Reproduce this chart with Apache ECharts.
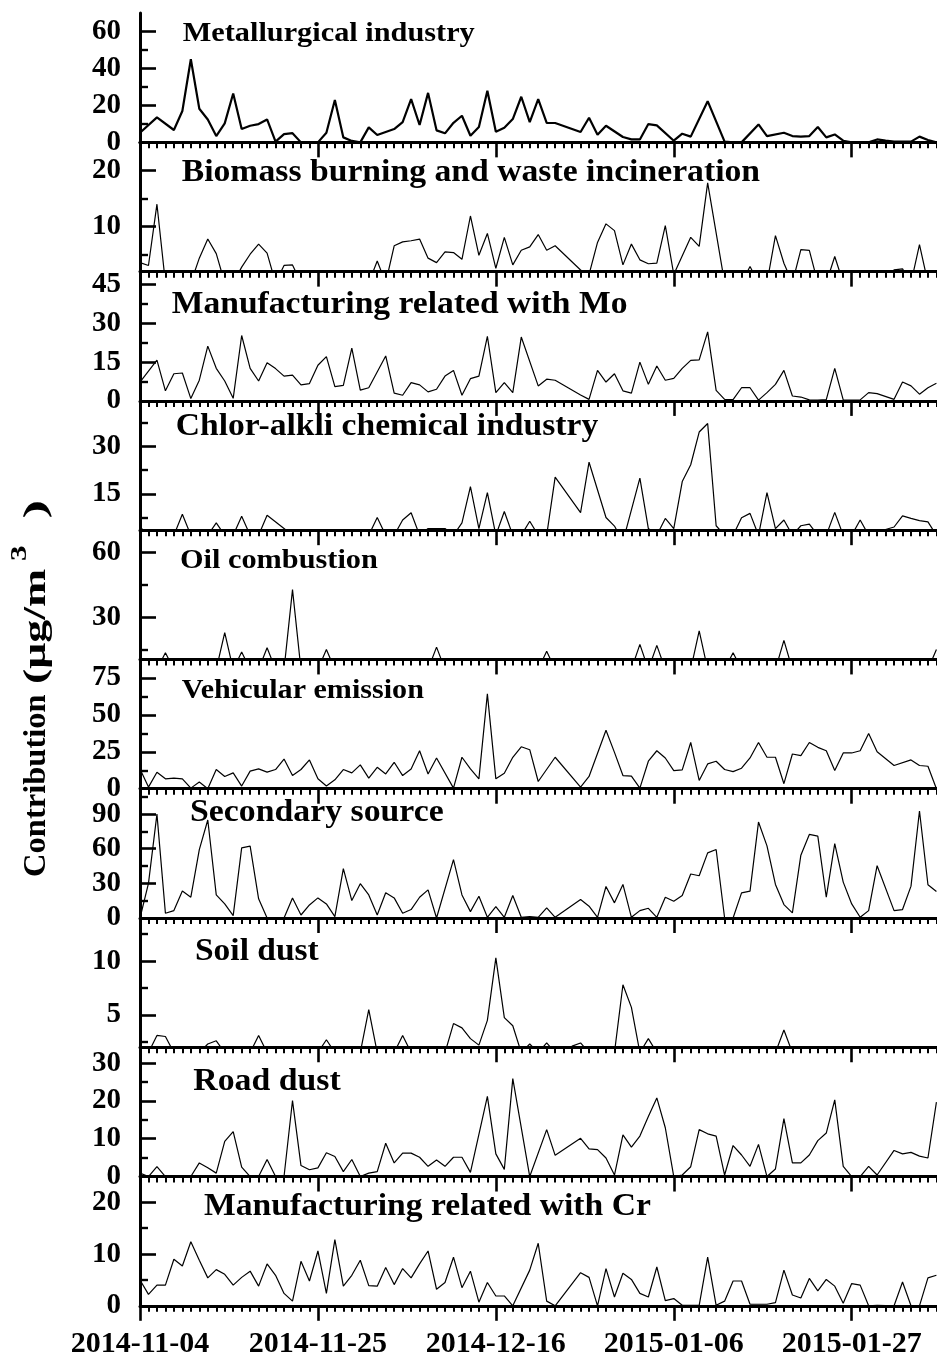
<!DOCTYPE html>
<html><head><meta charset="utf-8">
<script src="https://cdn.jsdelivr.net/npm/echarts@6/dist/echarts.min.js"></script>
<style>html,body{margin:0;padding:0;background:#fff}#c{width:937px;height:1358px}</style>
</head><body><div id="c"></div><script>
// ---- data (one value per day starting 2014-11-04; null = no vertex that day) ----
const START_DATE = '2014-11-04';
const xTickLabels = ['2014-11-04','2014-11-25','2014-12-16','2015-01-06','2015-01-27'];
const sourceNames = ['Metallurgical industry','Biomass burning and waste incineration','Manufacturing related with Mo','Chlor-alkli chemical industry','Oil combustion','Vehicular emission','Secondary source','Soil dust','Road dust','Manufacturing related with Cr'];

const metallurgical = [5.2,null,13.5,null,6.7,17,45,18.2,12.4,3.4, 10.3,26.5,7.2,9,9.9,12.4,0.4,4.5,5,0, 0,0,5.2,22.9,2.7,0.8,0,8.1,4,5.6, 7.2,11,23.4,9.4,26.8,6.5,4.9,10.6,14.4,3.6, 8.3,27.9,5.8,7.9,12.6,24.7,11,23.4,10.6,10.5, null,null,5.6,13.3,4.1,9,null,2.9,1.6,1.6, 9.9,9.2,null,0.9,4.7,3.1,null,22.3,null,0.4, 0,0,null,9.7,3.4,null,5.2,3.4,3.1,3.4, 8.3,2.7,4.3,0.9,0,0,0,1.6,0.9,0.4, 0.4,0.4,3.1,1.3,0];
const biomass = [3.6,3.1,14,0,0,0,0,4.4,7.8,5.2, 0,0,2.8,5.1,6.9,5.3,0,3.1,3.2,0, 0,0,0,0,0,0,0,0,3.9,0, 6.6,7.3,7.5,7.8,4.4,3.6,5.5,5.4,4.2,11.9, 4.9,8.8,2.6,8.1,3.2,5.8,6.4,8.6,5.8,6.6, null,null,2.3,1.5,7.2,10.5,9.3,3.2,6.9,4.1, 3.4,3.5,10.2,1.5,null,8.1,6.5,17.8,null,0, 0,0,2.9,0,0,8.4,3.5,0,5.9,5.8, 0,0,4.7,0,0,0,0,0,0,2.3, 2.5,0,6.8,0,0];
const moManufacturing = [7.3,null,15.8,3.9,10.5,10.8,0.9,8,21.2,12.6, 7.7,1,25.3,12.6,7.7,14.8,12.5,9.6,10,6.2, 6.7,13.8,17.1,5.5,6,20.4,4.2,5.1,null,17.4, 3,2.2,7.1,6.2,3.5,4.5,9.6,11.8,2.2,8.6, 9.6,25,3.2,7.1,3.2,24.7,null,5.8,8.4,8, null,null,2.3,0.6,11.8,7.3,10.5,3.9,3,15, 6.4,13.5,8,8.7,12.6,15.7,15.9,26.7,4.1,0.6, 0.5,5.1,5.1,0.3,3.2,6.4,11.8,1.9,1.5,0.4, 0.3,0.5,12.6,0.4,0.3,0.4,3.2,2.8,null,0.6, 7.3,5.8,2.6,5.1,6.8];
const chlorAlkali = [4.6,2,2,2,2,8.6,2,2,2,5.9, 2,2,8,2,2,8.3,null,4.1,2,2, 2,2,2,2,2,2,2,2,7.6,2, 2,6.8,9.1,2,4.1,null,4.1,2,5.9,17.3, 4.1,15.4,2,9.5,2,2,6.4,2,2,20.3, null,null,9.1,25,null,7.6,4.9,0,null,20, 4.1,2,7.3,4.1,18.9,24.2,34.5,37.2,5,2, 2,7.5,8.9,2,15.4,4.1,6.8,2,5,5.5, 2,2,9.2,2,2,6.8,2,2,3.8,4.6, 8.1,7.3,6.6,6.2,2];
const oilCombustion = [6,6,6,13.7,6,6,6,6,6,6, 23,6,14,6,6,16,6,6,42.9,6, 6,6,15.2,6,6,6,6,6,6,6, 6,6,6,6,6,16.3,6,6,6,6, 6,6,6,6,6,6,6,6,14.4,6, 6,6,6,6,6,6,6,6,6,17.6, 6,17.1,6,6,6,6,23.8,6,6,6, 13.7,6,6,6,6,6,19.4,6,6,6, 6,6,6,6,6,6,6,6,6,6, 6,6,6,6,15.2];
const vehicular = [13.4,1.1,11.2,6.7,7.2,6.7,0.4,4.5,0,13, 8.3,10.7,1.8,11.9,13.4,11.2,13,20.1,8.9,13, 19.5,6.7,1.8,6,13,10.7,16.1,7.2,14.5,10, 17.9,8.9,13.4,25.7,10,20.8,null,0.4,21.3,13.4, 6.7,64.2,6.7,10.5,21.3,28.4,26.4,4.9,null,21.3, null,null,1.1,8.3,null,39.6,24.6,8.9,8.5,0.4, 18.6,25.7,20.8,12.3,12.8,31.3,5.6,16.8,18.6,13, 11.6,13.9,20.8,31.3,21.3,21.3,3.4,23.5,22.4,31.3, 28,25.7,12.3,24.2,24.2,25.7,37.4,25,null,15.7, null,19.5,15.7,15.2,0];
const secondary = [0,30,90,4.1,6.4,23.3,18,59.3,84.9,20, 12.2,2,60.8,62.2,16.6,0,0,0,17.4,2.6, 11.3,17.4,12.2,1.2,42.7,15.1,29.7,20,2.6,21.8, 17.4,4.1,7.3,18,24.4,0,null,50.6,20,5.5, 18.9,0.6,9.9,0.6,19.5,0.6,1.2,0.6,8.7,0.6, null,null,16,10.2,0.6,27.3,13.1,29.1,0.6,6.4, 8.4,0.6,18,14.5,19.5,38.1,36.6,56.4,59.3,0, 0,21.8,23.3,83.1,62.5,29.1,11.6,4.4,54.4,72.4, 70.9,18,64.5,31.1,12.2,0.6,6.4,45.3,null,6.4, 7.3,27.6,92.7,28.8,23];
const soilDust = [1.5,1.5,3.1,3,1.5,1.5,1.5,1.5,2.3,2.6, 1.5,1.5,1.5,1.5,3.1,1.5,1.5,1.5,1.5,1.5, 1.5,1.5,2.7,1.5,1.5,1.5,1.5,5.5,1.5,1.5, 1.5,3.1,1.5,1.5,1.5,1.5,1.5,4.2,3.8,2.8, 2.2,4.5,10.3,4.75,4,1.5,2.3,1.5,2.4,1.5, 1.5,2.1,2.4,1.5,1.5,1.5,1.5,7.8,5.7,1.5, 2.8,1.5,1.5,1.5,1.5,1.5,1.5,1.5,1.5,1.5, 1.5,1.5,1.5,1.5,1.5,1.5,3.6,1.5,1.5,1.5, 1.5,1.5,1.5,1.5,1.5,1.5,1.5,1.5,1.5,1.5, 1.5,1.5,1.5,1.5,1.5];
const roadDust = [0.9,0,2.6,0,0,0,0,3.6,2.3,0.9, 9.3,11.9,2.5,0,0,4.5,0,0,20.1,2.9, 1.8,2.3,6.3,5.3,1.3,4.5,0,0.9,1.3,8.8, 3.6,6.2,6.2,5.1,2.7,4.4,2.7,5.1,5.1,1.1, null,21.2,6,1.9,25.9,null,0,null,12.4,5.6, null,null,10.1,7.3,7.1,4.9,0.4,11,7.8,10.7, 15.9,20.8,12.9,0,0.4,2.6,12.4,11.3,10.7,0.4, 8.2,5.7,2.7,8.5,0,2,15.3,3.6,3.6,5.7, 9.5,11.5,20.3,2.7,0,0,2.7,0.4,null,6.9, 6,6.4,5.4,4.9,19.7];
const crManufacturing = [5,2.2,4,4,9,7.7,12.4,8.8,5.4,7, 6.1,4,5.5,6.7,3.8,8.1,5.9,2.4,0.9,8.6, 4.8,10.6,2.4,12.8,3.8,5.9,8.8,3.9,3.8,7.4, 4.1,7.2,5.4,8.1,10.6,3.2,4.5,9.4,3.5,6.7, 0.7,4.5,1.9,1.9,0,null,6.9,12.1,0.9,0, null,null,6.4,5.5,0,7.2,1.7,6.3,5.1,2.4, 1.7,7.5,1,1.4,0.1,null,0.1,9.4,0.1,0.9, 4.8,4.8,0.3,null,0.3,0.6,6.9,2.1,1.5,5.3, 2.9,5.1,3.8,0.5,4.3,4,0,0.1,null,0, 4.6,0,0,5.4,5.9];

// axis ranges and tick values per panel
const yRanges = [[0,70],[2,25],[0,50],[3.6,44.3],[10.6,70.4],[0,87.5],[0,112],[2,14],[0,34.2],[0,25]];
const yMajorTicks = [[0,20,40,60],[10,20],[0,15,30,45],[15,30],[30,60],[0,25,50,75],[0,30,60,90],[5,10],[0,10,20,30],[0,10,20]];
const yMinorTicks = [[10,30,50],[5,15],[7.5,22.5,37.5],[7.5,22.5,37.5],[15,45],[12.5,37.5,62.5],[15,45,75,105],[2.5,7.5,12.5],[5,15,25],[5,15]];

// ---- layout / style ----
const allSeries = [metallurgical,biomass,moManufacturing,chlorAlkali,oilCombustion,vehicular,secondary,soilDust,roadDust,crManufacturing];
const FONT = '"Liberation Serif","Times New Roman",serif';
const GRID_LEFT = 140, GRID_TOP = 13.1, PANEL_H = 129.27, DAY_PX = 8.4726, X_MAX = 105;
const titlePos = [[182.7,34,30.3],[181.7,173.3,33.7],[171.7,305.3,33.6],[175.7,427.5,33.6],[180,560.5,30.3],[181.7,690.8,30.1],[190,812.5,33.8],[195,952.5,33.5],[193.3,1081.7,33.8],[204,1206.7,33.65]];
const SX = 1.09;

const grid=[], xAxis=[], yAxis=[], series=[], graphic=[];
for (let i=0;i<10;i++){
  grid.push({left:GRID_LEFT, top:GRID_TOP+PANEL_H*i, width:DAY_PX*X_MAX, height:PANEL_H, outerBoundsMode:'none', containLabel:false});
  xAxis.push({
    gridIndex:i, type:'value', min:0, max:X_MAX, interval:21, position:'bottom',
    axisLine:{show:true, onZero:false, lineStyle:{color:'#000', width:3}},
    axisTick:{show:true, inside:false, length:15, lineStyle:{color:'#000', width:2.6}},
    minorTick:{show:true, splitNumber:21, length:6, lineStyle:{color:'#000', width:2}},
    splitLine:{show:false}, minorSplitLine:{show:false},
    axisLabel:{show:i===9, margin:23, color:'#000', fontFamily:FONT, fontWeight:'bold', fontSize:30,
      formatter:(v)=>{const k=Math.round(v/21); return (Math.abs(v-k*21)<1e-6 && xTickLabels[k]) ? xTickLabels[k] : '';}}
  });
  const [mn,mx]=yRanges[i];
  yAxis.push({
    gridIndex:i, type:'value', min:mn, max:mx, position:'left',
    axisLine:{show:true, onZero:false, lineStyle:{color:'#000', width:3}},
    axisTick:{show:true, inside:true, length:16, customValues:yMajorTicks[i], lineStyle:{color:'#000', width:2.6}},
    axisLabel:{show:true, customValues:yMajorTicks[i], margin:19, color:'#000', fontFamily:FONT, fontWeight:'bold', fontSize:29},
    splitLine:{show:false}
  });
  yAxis.push({
    gridIndex:i, type:'value', min:mn, max:mx, position:'left',
    axisLine:{show:false},
    axisTick:{show:true, inside:true, length:8, customValues:yMinorTicks[i], lineStyle:{color:'#000', width:2.4}},
    axisLabel:{show:false}, splitLine:{show:false}
  });
  const vals = allSeries[i];
  const data = [];
  vals.forEach((v,d)=>{ if(v!==null) data.push([d,v]); });
  series.push({type:'line', name:sourceNames[i], xAxisIndex:i, yAxisIndex:2*i, data:data,
    showSymbol:false, symbol:'none', clip:true, animation:false,
    lineStyle:{color:'#000', width: i===0 ? 2.2 : 1.2}});
  const [tx,ty,ts]=titlePos[i];
  graphic.push({type:'text', x:tx, y:ty, scaleX:SX, z:100,
    style:{text:sourceNames[i], font:'bold '+(ts/SX).toFixed(2)+'px '+FONT, fill:'#000', align:'left', verticalAlign:'middle'}});
}
// top border of the first panel
xAxis.push({gridIndex:0, type:'value', min:0, max:X_MAX, position:'top',
  axisLine:{show:true, lineStyle:{color:'#000', width:3}}, axisTick:{show:false}, axisLabel:{show:false}, splitLine:{show:false}});

// y-axis title (reads bottom to top), pieces placed to follow the reference spacing
graphic.push({type:'text', x:37, y:877, rotation:Math.PI/2, scaleX:1.05, z:100,
  style:{text:'Contribution', font:'bold 31px '+FONT, fill:'#000', align:'left', verticalAlign:'middle'}});
graphic.push({type:'text', x:37, y:684, rotation:Math.PI/2, scaleX:1.48, z:100,
  style:{text:'(μg/m', font:'bold 31px '+FONT, fill:'#000', align:'left', verticalAlign:'middle'}});
graphic.push({type:'text', x:20, y:561, rotation:Math.PI/2, scaleX:1.35, z:100,
  style:{text:'3', font:'bold 23px '+FONT, fill:'#000', align:'left', verticalAlign:'middle'}});
graphic.push({type:'text', x:37, y:500, rotation:Math.PI/2, scaleX:1.8, z:100,
  style:{text:')', font:'bold 31px '+FONT, fill:'#000', align:'right', verticalAlign:'middle'}});

const chart = echarts.init(document.getElementById('c'));
chart.setOption({animation:false, backgroundColor:'#fff', grid, xAxis, yAxis, series, graphic});
</script></body></html>
